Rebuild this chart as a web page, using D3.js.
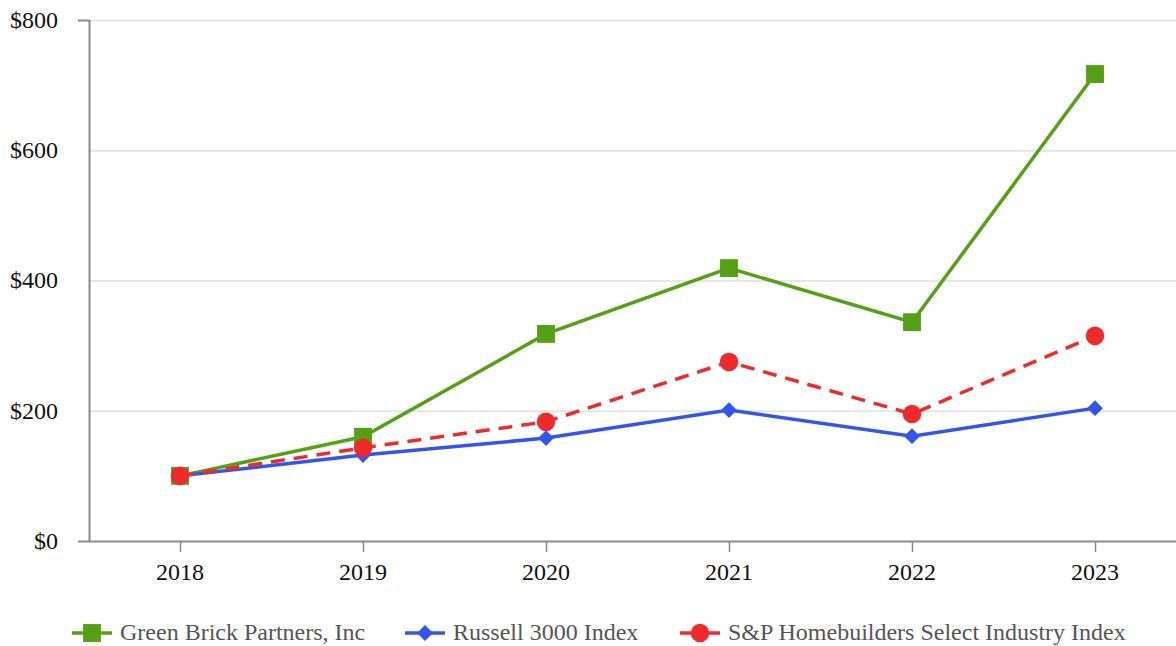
<!DOCTYPE html>
<html>
<head>
<meta charset="utf-8">
<script src="https://cdn.jsdelivr.net/npm/d3@7"></script>
<style>
  body { margin: 0; background: #fff; }
  text { font-family: "Liberation Serif", "Times New Roman", serif; }
</style>
</head>
<body>
<div id="chart"></div>
<script>
// data
const years = ["2018", "2019", "2020", "2021", "2022", "2023"];
const greenBrick = [100, 160, 318, 419, 336, 717];
const russell = [100, 132, 158, 201, 161, 204];
const spHome = [100, 143, 183, 275, 195, 315];
const yTicks = [0, 200, 400, 600, 800];

const width = 1176, height = 646;
const series = [
  { name: "Green Brick Partners, Inc", values: greenBrick, color: "#55a116", symbol: d3.symbolSquare, size: 320, rot: 0, dash: null, lx: 72 },
  { name: "Russell 3000 Index", values: russell, color: "#3355ee", symbol: d3.symbolSquare, size: 125, rot: 45, dash: null, lx: 405 },
  { name: "S&P Homebuilders Select Industry Index", values: spHome, color: "#ee2a2a", symbol: d3.symbolCircle, size: 270, rot: 0, dash: "14,9", lx: 680 }
];

const svg = d3.select("#chart").append("svg")
  .attr("width", width)
  .attr("height", height);

const x = d3.scalePoint().domain(years).range([180, 1095]);
const y = d3.scaleLinear().domain([0, 800]).range([541, 20]);

// grid
svg.append("g").selectAll("line")
  .data(yTicks.filter(d => d > 0))
  .join("line")
    .attr("x1", 89).attr("x2", width)
    .attr("y1", d => y(d) + 0.5).attr("y2", d => y(d) + 0.5)
    .style("stroke", "#e6e6e6").style("stroke-width", 2);

// y axis
svg.append("line").attr("x1", 89.5).attr("x2", 89.5).attr("y1", y(800)).attr("y2", y(0))
  .style("stroke", "#8a8a8a").style("stroke-width", 2);
svg.append("line").attr("x1", 78).attr("x2", 89).attr("y1", y(800) + 0.5).attr("y2", y(800) + 0.5)
  .style("stroke", "#8a8a8a").style("stroke-width", 2);
svg.append("g").selectAll("text")
  .data(yTicks)
  .join("text")
    .attr("x", 58).attr("y", d => y(d))
    .attr("dy", "0.33em")
    .attr("text-anchor", "end")
    .style("font-size", "24px").style("fill", "#111")
    .text(d => "$" + d);

// x axis
svg.append("line").attr("x1", 78).attr("x2", width).attr("y1", y(0) + 0.5).attr("y2", y(0) + 0.5)
  .style("stroke", "#8a8a8a").style("stroke-width", 2);
svg.append("g").selectAll("line")
  .data(years)
  .join("line")
    .attr("x1", d => x(d) + 0.5).attr("x2", d => x(d) + 0.5)
    .attr("y1", y(0)).attr("y2", y(0) + 11)
    .style("stroke", "#8a8a8a").style("stroke-width", 1.5);
svg.append("g").selectAll("text")
  .data(years)
  .join("text")
    .attr("x", d => x(d)).attr("y", 580)
    .attr("text-anchor", "middle")
    .style("font-size", "24px").style("fill", "#111")
    .text(d => d);

// lines
const line = d3.line().x((d, i) => x(years[i])).y(d => y(d));
series.forEach(s => {
  svg.append("path")
    .datum(s.values)
    .attr("d", line)
    .style("fill", "none")
    .style("stroke", s.color)
    .style("stroke-width", 3.5)
    .style("stroke-dasharray", s.dash);
  svg.append("g").selectAll("path")
    .data(s.values)
    .join("path")
      .attr("transform", (d, i) => `translate(${x(years[i])},${y(d)}) rotate(${s.rot})`)
      .attr("d", d3.symbol().type(s.symbol).size(s.size))
      .style("fill", s.color);
});

// legend (kept a touch higher so descenders stay inside the page)
const leg = svg.append("g").attr("transform", "translate(0,633)");
series.forEach(s => {
  leg.append("line").attr("x1", s.lx).attr("x2", s.lx + 40).attr("y1", 0).attr("y2", 0)
    .style("stroke", s.color).style("stroke-width", 3.5);
  leg.append("path").attr("transform", `translate(${s.lx + 20},0) rotate(${s.rot})`)
    .attr("d", d3.symbol().type(s.symbol).size(s.size))
    .style("fill", s.color);
  leg.append("text").attr("x", s.lx + 48).attr("y", 0).attr("dy", "0.3em")
    .style("font-size", "24px").style("fill", "#555")
    .text(s.name);
});
</script>
</body>
</html>
